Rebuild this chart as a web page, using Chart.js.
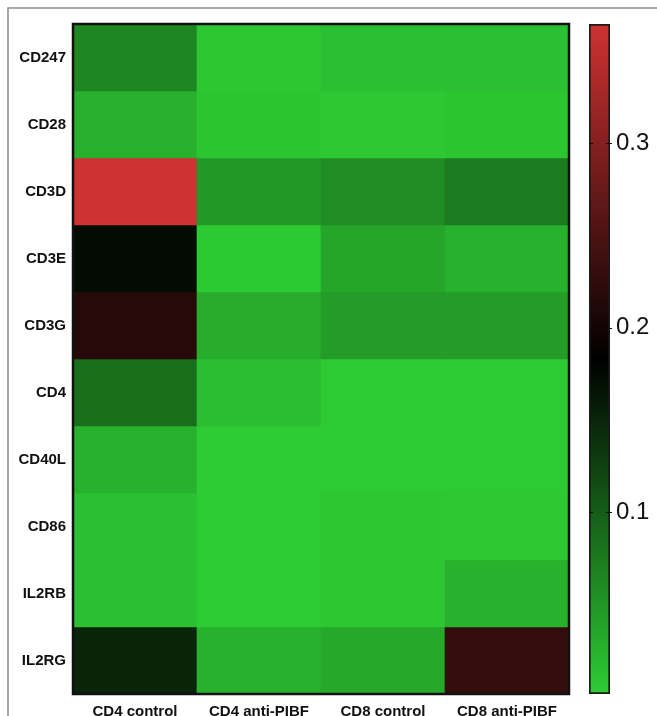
<!DOCTYPE html>
<html>
<head>
<meta charset="utf-8">
<script src="https://cdn.jsdelivr.net/npm/chart.js@4.4.1/dist/chart.umd.min.js"></script>
<style>
  html, body { margin: 0; padding: 0; background: #fff; }
  #wrap { position: relative; width: 657px; height: 716px; }
  canvas { position: absolute; left: 0; top: 0; }
</style>
</head>
<body>
<div id="wrap">
  <canvas id="heat" width="657" height="716"></canvas>
  <canvas id="bar" width="657" height="716"></canvas>
</div>
<script>
// Sample groups (columns) and genes (rows, top to bottom)
const columns = ['CD4 control', 'CD4 anti-PIBF', 'CD8 control', 'CD8 anti-PIBF'];
const genes = ['CD247', 'CD28', 'CD3D', 'CD3E', 'CD3G', 'CD4', 'CD40L', 'CD86', 'IL2RB', 'IL2RG'];

// Expression values per group, in gene order
const cd4Control  = [0.063, 0.026, 0.3645, 0.172, 0.216, 0.085, 0.025, 0.012, 0.012, 0.150];
const cd4AntiPIBF = [0.006, 0.008, 0.048, 0.004, 0.030, 0.014, 0.002, 0.002, 0.002, 0.025];
const cd8Control  = [0.012, 0.005, 0.058, 0.036, 0.044, 0.003, 0.003, 0.006, 0.006, 0.033];
const cd8AntiPIBF = [0.012, 0.008, 0.074, 0.025, 0.044, 0.003, 0.003, 0.005, 0.025, 0.228];
const seriesByColumn = [cd4Control, cd4AntiPIBF, cd8Control, cd8AntiPIBF];

// Colour scale limits and colour bar ticks
const colorMin = 0.0014;
const colorMax = 0.3645;
const colorTicks = [0.1, 0.2, 0.3];

// green -> black -> red
const colorStops = [[46, 204, 52], [0, 0, 0], [207, 50, 50]];

function valueColor(v) {
  let t = (v - colorMin) / (colorMax - colorMin);
  t = Math.max(0, Math.min(1, t));
  const seg = t * (colorStops.length - 1);
  const i = Math.min(colorStops.length - 2, Math.floor(seg));
  const f = seg - i;
  const a = colorStops[i], b = colorStops[i + 1];
  const c = a.map((ch, k) => Math.round(ch + (b[k] - ch) * f));
  return `rgb(${c[0]},${c[1]},${c[2]})`;
}

const FONT = "'Liberation Sans', Arial, Helvetica, sans-serif";

// One floating-bar dataset per gene row; row 0 sits at the top
const heatDatasets = genes.map((g, i) => {
  const lo = genes.length - i - 1;
  return {
    label: g,
    data: columns.map(() => [lo, lo + 1]),
    backgroundColor: seriesByColumn.map(s => valueColor(s[i])),
    borderWidth: 0,
    grouped: false,
    barPercentage: 1,
    categoryPercentage: 1
  };
});

const framePlugin = {
  id: 'frame',
  beforeDraw(chart) {
    const ctx = chart.ctx;
    ctx.save();
    ctx.strokeStyle = '#8c8c8c';
    ctx.lineWidth = 1.5;
    ctx.beginPath();
    ctx.moveTo(8, 716);
    ctx.lineTo(8, 8);
    ctx.lineTo(657, 8);
    ctx.stroke();
    ctx.restore();
  },
  afterDatasetsDraw(chart) {
    const a = chart.chartArea;
    const ctx = chart.ctx;
    ctx.save();
    ctx.strokeStyle = '#111';
    ctx.lineWidth = 2.5;
    ctx.strokeRect(a.left, a.top, a.right - a.left, a.bottom - a.top);
    ctx.restore();
  }
};

new Chart(document.getElementById('heat'), {
  type: 'bar',
  data: { labels: columns, datasets: heatDatasets },
  options: {
    responsive: false,
    animation: false,
    layout: { padding: { left: 0, top: 24, right: 88, bottom: 0 } },
    plugins: { legend: { display: false }, tooltip: { enabled: false } },
    scales: {
      x: {
        type: 'category',
        grid: { display: false, drawTicks: false },
        border: { display: false },
        ticks: {
          color: '#111',
          font: { family: FONT, size: 15, weight: 'bold' },
          padding: 9,
          maxRotation: 0,
          autoSkip: false
        },
        afterFit(scale) { scale.height = 22; }
      },
      y: {
        type: 'linear',
        min: 0,
        max: genes.length,
        grid: { display: false, drawTicks: false },
        border: { display: false },
        afterBuildTicks(scale) {
          scale.ticks = genes.map((g, i) => ({ value: genes.length - i - 0.5 }));
        },
        ticks: {
          color: '#111',
          font: { family: FONT, size: 15, weight: 'bold' },
          padding: 7,
          autoSkip: false,
          callback(value) {
            const i = Math.round(genes.length - 0.5 - value);
            return genes[i];
          }
        },
        afterFit(scale) { scale.width = 73; }
      }
    }
  },
  plugins: [framePlugin]
});

// Colour bar: a single floating bar spanning the colour range, filled with the scale gradient
const colorbarPlugin = {
  id: 'colorbar',
  beforeDatasetsDraw(chart) {
    const y = chart.scales.y;
    const bar = chart.getDatasetMeta(0).data[0];
    const y0 = y.getPixelForValue(colorMin);
    const y1 = y.getPixelForValue(colorMax);
    if (!bar || !isFinite(y0) || !isFinite(y1)) return;
    const g = chart.ctx.createLinearGradient(0, y0, 0, y1);
    colorStops.forEach((c, k) => g.addColorStop(k / (colorStops.length - 1), `rgb(${c[0]},${c[1]},${c[2]})`));
    bar.options.backgroundColor = g;
  },
  afterDatasetsDraw(chart) {
    const y = chart.scales.y;
    const a = chart.chartArea;
    const ctx = chart.ctx;
    ctx.save();
    ctx.strokeStyle = '#111';
    ctx.lineWidth = 1;
    colorTicks.forEach(v => {
      const py = Math.round(y.getPixelForValue(v)) + 0.5;
      ctx.beginPath();
      ctx.moveTo(a.left, py); ctx.lineTo(a.left + 4, py);
      ctx.moveTo(a.right - 4, py); ctx.lineTo(a.right + 2, py);
      ctx.stroke();
    });
    ctx.restore();
  }
};

new Chart(document.getElementById('bar'), {
  type: 'bar',
  data: {
    labels: [''],
    datasets: [{
      data: [[colorMin, colorMax]],
      backgroundColor: '#000',
      borderColor: '#1a1a1a',
      borderWidth: 2,
      borderSkipped: false,
      barPercentage: 1,
      categoryPercentage: 1
    }]
  },
  options: {
    responsive: false,
    animation: false,
    layout: { padding: { left: 589, top: 24, right: 0, bottom: 22 } },
    plugins: { legend: { display: false }, tooltip: { enabled: false } },
    scales: {
      x: { display: false },
      y: {
        type: 'linear',
        position: 'right',
        min: colorMin,
        max: colorMax,
        grid: { display: false, drawTicks: false },
        border: { display: false },
        afterBuildTicks(scale) {
          scale.ticks = colorTicks.map(v => ({ value: v }));
        },
        ticks: {
          color: '#111',
          font: { family: FONT, size: 24 },
          padding: 6,
          callback(value) { return value.toFixed(1); }
        },
        afterFit(scale) { scale.width = 47; }
      }
    }
  },
  plugins: [colorbarPlugin]
});
</script>
</body>
</html>
